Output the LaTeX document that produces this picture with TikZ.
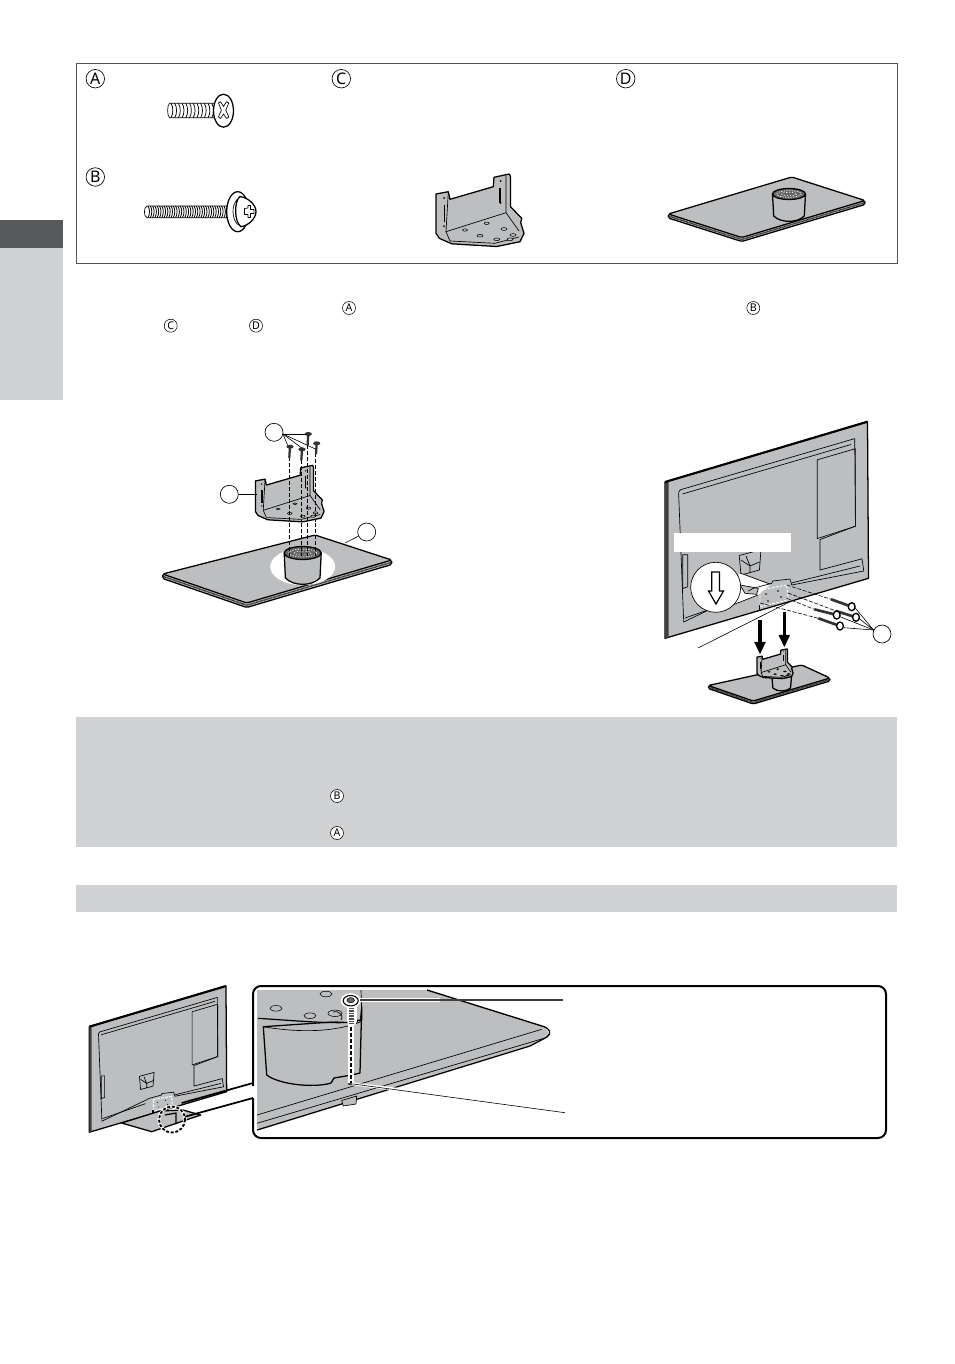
\documentclass[tikz,border=0pt]{standalone}
\usepackage{fontspec}
\setmainfont{Noto Sans}
\usetikzlibrary{calc,arrows.meta}
\definecolor{partgray}{HTML}{BCBEC0}
\definecolor{bandgray}{HTML}{D1D2D4}
\definecolor{sidedark}{HTML}{58595B}
\definecolor{framegray}{HTML}{555555}
\tikzset{
  lnk/.style={draw=black,line width=.5pt,line join=round},
  thk/.style={draw=black,line width=.95pt,line join=round},
  lab/.style={circle,draw=black,line width=.5pt,fill=white,minimum size=18.5*.75pt,inner sep=0pt,font=\fontsize{12}{12}\selectfont},
  labs/.style={circle,draw=black,line width=.4pt,fill=white,minimum size=13*.75pt,inner sep=0pt,font=\fontsize{8}{8}\selectfont},
  blank/.style={circle,draw=black,line width=.5pt,fill=white,minimum size=18*.75pt,inner sep=0pt},
  lead/.style={draw=black,line width=.45pt},
  dsh/.style={draw=black,line width=.7pt,dash pattern=on 3pt off 1.5pt},
  fine/.style={draw=black,line width=.45pt,dash pattern=on 3pt off 1.2pt},
  hole/.style={draw=black,line width=.4pt,fill=partgray},
  bigarrow/.style={black,line width=2.5pt,-{Triangle[length=9.5pt,width=8pt]}}
}
% plate: corners a b c d, rim depth
\newcommand\standplate[5]{%
  \path[fill=partgray,thk,rounded corners=1.2] (#1) -- ($(#1)+(0,#5)$) -- ($(#4)+(0,#5)$) -- ($(#3)+(0,#5)$) -- (#3) -- cycle;
  \draw[line width=1pt,dash pattern=on .6pt off .4pt,black!85] ($(#1)+(0,#5*.5)$) -- ($(#4)+(0,#5*.5)$) -- ($(#3)+(0,#5*.5)$);
  \path[fill=partgray,thk,rounded corners=1.2] (#1) -- (#2) -- (#3) -- (#4) -- cycle;
}
% cylinder: cx, top y, rx, ry, bottom y
\newcommand\standcyl[5]{%
  \path[fill=partgray,thk] ({#1-#3},#2) -- ({#1-#3+1.2},#5) .. controls ({#1-#3*.5},{#5+#4*1.3}) and ({#1+#3*.5},{#5+#4*1.3}) .. ({#1+#3-1.2},#5) -- ({#1+#3},#2) -- cycle;
  \path[fill=black!60,thk] (#1,#2) ellipse [x radius=#3,y radius=#4];
  \draw[white,line width=.55pt,dash pattern=on .9pt off 1.1pt] (#1,#2) ellipse [x radius=#3*.75,y radius=#4*.6];
  \draw[white,line width=.45pt,dash pattern=on .9pt off 1.3pt] (#1,#2) ellipse [x radius=#3*.45,y radius=#4*.3];
}
% bracket, drawn in the coordinates of the parts-box picture
\newcommand\bracketshape{%
  \path[fill=partgray,thk] (436,194) -- (448.3,191.7) -- (450,199.3) -- (493.3,186.7) -- (494,177.3) -- (509.3,174) -- (510.5,176.7) -- (510.5,206.7) -- (521.7,218.3) -- (520.7,222.7) -- (524,233.3) -- (520,241.7) -- (496.7,246.5) -- (451.7,243.8) -- (439.3,238.3) -- (436,233.3) -- cycle;
  \draw[lnk] (448.3,192) -- (446,231.7) -- (450,241);
  \draw[lnk] (446,231.7) -- (506,212.7) -- (506,175.5);
  \draw[lnk] (506,212.7) -- (519,231);
  \draw[lnk] (450,241) -- (495,243.3) -- (519,237);
  \draw[line width=1pt] (444.3,205) -- (444.3,222);
  \draw[line width=1pt] (500,188) -- (500,203);
  \path[fill=black] (444,198) circle[radius=1] (444,226) circle[radius=1] (500.5,181) circle[radius=1] (500.5,203) circle[radius=1];
  \path[hole] (465,230) ellipse [x radius=2.5,y radius=1.2] (486.7,223.3) ellipse [x radius=2.5,y radius=1.2] (480,235.7) ellipse [x radius=3,y radius=1.3] (504,229) ellipse [x radius=3,y radius=1.4] (496.7,239.3) ellipse [x radius=3,y radius=1.3] (513,235) ellipse [x radius=3,y radius=1.4] (510,239.3) ellipse [x radius=3,y radius=1.4];
}
% television back, in the coordinates of step 2
\newcommand\tvback{%
  \path[fill=partgray,thk] (665,482) -- (867.5,421.7) -- (868.5,578.3) -- (665,638.3) -- cycle;
  \path[fill=black!75] (665,482) -- (668.5,481) -- (668.5,637.3) -- (665,638.3) -- cycle;
  \draw[black,line width=1.6pt] (665,482) -- (867.5,421.7);
  \draw[lnk] (678.6,492.5) -- (680.3,489.8) -- (854.7,438.6) -- (855.4,526.2) -- (820,539.6) -- (820,570) -- (862,558.8) -- (863.8,571) -- (791.7,585);
  \draw[lnk] (748.3,591) -- (683.7,622) -- (678.6,492.5);
  \draw[lnk] (682.5,494) -- (851,444.5);
  \draw[lnk] (685,618) -- (748.3,596);
  \draw[lnk] (791.4,583) -- (860,566);
  \draw[lnk] (817.3,459.8) -- (855.4,448.7) -- (855.4,526.2) -- (817.3,538.6) -- cycle;
  \draw[lnk] (682.7,554.8) -- (687.7,554.8) -- (687.7,586.8) -- (682.7,588.5) -- cycle;
  \draw[lnk] (739.2,555.5) -- (761,549.7) -- (759.4,570) -- (741,575) -- cycle;
  \draw[lnk] (741,560) -- (750,566) -- (759.5,562) (750,566) -- (750,573) (750,566) -- (746,556);
}
\newcommand\tvbracket{%
  \draw[lnk] (748.3,591) -- (753.3,588.3) -- (771.7,583.3) -- (772.7,581) -- (790,579) -- (791.7,585);
  \draw[white,line width=.7pt,dash pattern=on 2pt off 1pt] (760,590) -- (786.7,585) -- (788.3,600) -- (760,606.7) -- cycle;
  \draw[black,line width=1pt] (759.3,605) -- (759.3,610);
  \path[fill=black] (766,594) circle[radius=.8] (778,591) circle[radius=.8] (768,601) circle[radius=.8] (781,597) circle[radius=.8];
}
\begin{document}
\begin{tikzpicture}[x=.75pt,y=-.75pt]
\useasboundingbox (0,0) rectangle (954,1364);
\path[fill=white] (0,0) rectangle (954,1364);
% side tab
\path[fill=bandgray] (0,248) rectangle (63,400);
\path[fill=sidedark] (0,220) rectangle (63,248);
% parts box
\node[draw=framegray,line width=.85pt,minimum width=821*.75pt,minimum height=200*.75pt,inner sep=0pt] (partsbox) at (487,163.5) {};
\node[lab] (la) at (95.3,78.7) {A};
\node[lab] (lc) at (341.3,78.7) {C};
\node[lab] (ld) at (625.7,78.7) {D};
\node[lab] (lb) at (95.3,177) {B};
% screw A
\path[fill=white,lnk] (214.5,103.3) -- (169.5,103.3) .. controls (167,105) and (167,116) .. (169.5,117.7) -- (214.5,117.7) -- cycle;
\foreach \i in {0,...,11} \draw[line width=.55pt] ({171+\i*3.7},103.3) .. controls ({173.5+\i*3.7},107) and ({173.5+\i*3.7},114) .. ({171+\i*3.7},117.7);
\path[fill=white,thk] (223.5,110.7) ellipse [x radius=10,y radius=16.5];
\draw[lnk] (218.5,103) -- (220.5,101.7) -- (223.5,106.5) -- (226.5,101.7) -- (228.8,103) -- (225.8,110.2) -- (228.8,117) -- (226.5,118.5) -- (223.5,114) -- (220.5,118.5) -- (218.5,117) -- (221.3,110.2) -- cycle;
% screw B
\path[fill=white,lnk] (228,206) -- (147,206) .. controls (143.5,207) and (143.5,217) .. (147,217.7) -- (228,217.7) -- cycle;
\foreach \i in {0,...,34} \draw[line width=.6pt] ({148+\i*2.3},206) .. controls ({150+\i*2.3},209) and ({150+\i*2.3},214) .. ({148+\i*2.3},217.7);
\path[fill=white,thk] (237.7,211.7) ellipse [x radius=11,y radius=20];
\path[fill=white,thk] (240,196.5) .. controls (249,198) and (256,205) .. (256,211.7) .. controls (256,218) and (249,225.5) .. (241,226.7) .. controls (234,222) and (234,201) .. (240,196.5) -- cycle;
\draw[lnk] (237.5,199) .. controls (231.5,205) and (231.5,218) .. (237.5,224.5);
\draw[lnk] (248,208) -- (248,205.5) -- (250.5,205.5) -- (250.5,209.5) -- (254,209.5) -- (254,213.5) -- (250.5,213.5) -- (250.5,217.5) -- (248,217.5) -- (248,214.5) -- (244.5,214.5) -- (244.5,208.5) -- cycle;
% bracket C
\bracketshape
% stand D
\standplate{668.3,214}{791.7,177}{865,200.5}{741.7,237.5}{4}
\standcyl{789}{194}{16.5}{5.5}{216}
% small labels
\node[labs] (sa) at (349,308) {A};
\node[labs] (sb) at (753.3,308) {B};
\node[labs] (sc) at (170.7,325.7) {C};
\node[labs] (sd) at (256,325.7) {D};
% step 1
\standplate{162.7,574}{315,535}{391.7,560}{246.7,603}{4.5}
\path[fill=white] (302.7,566.7) ellipse [x radius=32.5,y radius=18.5];
\standcyl{302.7}{553}{18.5}{6.5}{578}
\foreach \xx in {289.3,301.7,307,315.7} \draw[dsh] (\xx,523) -- (\xx,556);
\begin{scope}[shift={({256-.78*436.7},{481.7-.78*195})},scale=.78]
\bracketshape
\end{scope}
\foreach \xx/\yy in {289.3/457.3,301.7/460,307/445,315.7/453} \draw[dsh] (\xx,\yy) -- (\xx,522);
\foreach \xx/\yy in {290/446.7,302/449.3,308.3/434,316.7/443.3}{
  \draw[line width=1.7pt,black!80] (\xx,\yy) -- ({\xx-.7},{\yy+11});
  \path[fill=black!80] (\xx,\yy) ellipse [x radius=3.6,y radius=2];
}
\coordinate (sc1) at (307,434);
\coordinate (sc2) at (316,449.3);
\coordinate (sc3) at (301.7,448);
\coordinate (sc4) at (287.5,445);
\coordinate (brkend) at (257,494.3);
\coordinate (platept) at (345,543);
\node[blank] (n1) at (274,432.3) {};
\node[blank] (n2) at (229.3,494.3) {};
\node[blank] (n3) at (366.7,532) {};
\foreach \t in {sc1,sc2,sc3,sc4} \draw[lead] (283,434) -- (\t);
\draw[lead] (n2) -- (brkend);
\draw[lead] (n3) -- (platept);
% step 2
\tvback
\path[fill=white] (674,532.7) rectangle (791,551.7);
\path[fill=white] (740,573) -- (770,585) -- (758,595) -- (725,608) -- cycle;
\path[fill=partgray,lnk] (740,585) -- (758.3,588.3) -- (756.7,594.3) -- (745,593.3) -- cycle;
\draw[lnk] (740,573) -- (770,584);
\draw[lnk] (725,608) -- (758,595);
\node[circle,draw=black,line width=.5pt,fill=white,minimum size=50*.75pt,inner sep=0pt] (zoomc) at (715.7,587.3) {};
\draw[black,line width=.9pt,fill=white] (711.8,572) -- (719.5,572) -- (719.5,591) -- (723.5,591) -- (716,604) -- (708.5,591) -- (711.8,591) -- cycle;
\tvbracket
\draw[fine] (786.7,585) -- (831,599.3);
\draw[fine] (788,593) -- (836,611);
\draw[fine] (786.7,598.3) -- (814.3,609.3);
\draw[fine] (760,603) -- (818.3,618.3);
\foreach \hx/\hy/\tx/\ty in {851.7/606.7/831/599.3,856/617.3/836/611,836.7/615/814.3/609.3,840/626/818.3/618.3}{
  \draw[line width=2pt,black!80] (\hx,\hy) -- (\tx,\ty);
  \path[fill=white,draw=black,line width=1pt] (\hx,\hy) ellipse [x radius=3.4,y radius=4];
}
\node[blank] (n4) at (882,634) {};
\coordinate (t1) at (855,607.7);
\coordinate (t2) at (859,618.3);
\coordinate (t3) at (840,616.7);
\coordinate (t4) at (844,627.7);
\foreach \t in {t1,t2,t3,t4} \draw[lead] (873.5,630) -- (\t);
\coordinate (la1) at (698,648);
\coordinate (la2) at (790,601.7);
\draw[lead] (la1) -- (la2);
\draw[bigarrow] (760,620) -- (760,654.5);
\draw[bigarrow] (784.3,611.7) -- (784.3,647.5);
\standplate{708.3,685.5}{801.7,665}{830,678}{753.3,701}{3}
\standcyl{781.7}{675}{10}{3}{688}
\begin{scope}[shift={({757.3-.41*436.7},{657.5-.41*195})},scale=.41]
\bracketshape
\end{scope}
% grey bands
\path[fill=bandgray] (76,717) rectangle (897,847);
\path[fill=bandgray] (76,885) rectangle (897,912);
\node[labs] (sb2) at (337,796) {B};
\node[labs] (sa2) at (337,833) {A};
% small TV
\begin{scope}[shift={({89.3-.675*665},{1026.7-.675*482})},scale=.675]
\tvback
\end{scope}
\path[fill=partgray,thk] (121.7,1123) -- (160,1111) -- (183,1110) -- (200.7,1115) -- (151.7,1131.7) -- cycle;
\begin{scope}[shift={({89.3-.675*665},{1026.7-.675*482})},scale=.675]
\tvbracket
\end{scope}
\draw[black,line width=.9pt] (165,1115) -- (176,1113) -- (176,1124);
\draw[white,line width=2.4pt] (172,1119.5) circle[radius=13];
\draw[black,line width=1.4pt,dash pattern=on 2.2pt off 1.3pt] (172,1119.5) circle[radius=13];
\node[circle,minimum size=27*.75pt,inner sep=0pt] (dc) at (172,1119.5) {};
% callout frame
\coordinate (w1) at (181.7,1103);
\coordinate (w2) at (185,1116.7);
\coordinate (w3) at (253,1083);
\coordinate (w4) at (253,1098);
\draw[black,line width=1.5pt,rounded corners=6] (253,1086) -- (253,986) -- (886,986) -- (886,1138) -- (253,1138) -- (253,1098);
\draw[black,line width=1.3pt] (w1) -- (w3);
\draw[black,line width=1.3pt] (w2) -- (w4);
% callout content
\path[fill=partgray,rounded corners=3] (257,990) -- (427,990) -- (543.5,1026.5) -- (550,1033.5) -- (545,1039) -- (530,1046.5) -- (257,1131) -- cycle;
\draw[black,line width=1pt] (427,990) -- (543.5,1026.5) .. controls (550,1029) and (552,1033) .. (547,1037);
\draw[lnk] (257,1115) -- (541.7,1029.3);
\draw[lnk] (257,1123.3) -- (545,1038);
\draw[black,line width=.9pt] (257,1130) -- (530,1046) -- (547,1037);
\path[fill=partgray,lnk] (341.7,1100.5) -- (356.7,1096) -- (356,1104) -- (343.3,1106) -- cycle;
\path[fill=partgray,thk] (263.3,1026.7) -- (266.7,1075) .. controls (280,1085) and (315,1088) .. (331,1083) -- (334,1078) -- (351.7,1075) -- (360,1073) -- (361.7,1006.7) -- (361.7,1020) -- cycle;
\path[fill=partgray] (257,1000) -- (257,1018) -- (350,1022) -- (362,1005) -- (358,990) -- (257,990) -- cycle;
\draw[black,line width=.9pt] (258,1018.3) .. controls (300,1021) and (330,1024) .. (358,1022);
\draw[lnk] (263,1026.7) .. controls (300,1033) and (335,1032) .. (360,1022);
\draw[lnk] (360,1022) -- (361.7,1006);
\draw[lnk] (361,990) -- (361.5,1006);
\path[hole] (326,994) ellipse [x radius=6,y radius=2.8] (276,1008.3) ellipse [x radius=6,y radius=2.8] (310,1015.7) ellipse [x radius=6,y radius=2.8] (335,1013.3) ellipse [x radius=7,y radius=3.2];
\draw[lnk] (333,1012) .. controls (340,1010) and (344,1017) .. (341,1020);
% screw and leaders, with white halos
\draw[white,line width=2.2pt] (353.5,1084) -- (470,1098);
\coordinate (lb1) at (353.5,1084);
\coordinate (lb2) at (565,1112.7);
\draw[lead] (lb1) -- (lb2);
\path[fill=black!80] (350,1084) ellipse [x radius=2,y radius=1];
\draw[white,line width=4pt] (351,1020) -- (351,1083);
\draw[dsh,line width=.8pt] (351,1021) -- (351,1083);
\draw[white,line width=7.5pt,line cap=round] (351.5,1004) -- (351.5,1021);
\draw[line width=4pt,black!70,dash pattern=on .7pt off .5pt] (351.5,1005) -- (351.5,1023);
\path[fill=white] (350.7,1000.7) ellipse [x radius=10,y radius=7.5];
\draw[white,line width=2.8pt] (358,1000) -- (440,1000);
\coordinate (lt1) at (360,1000);
\coordinate (lt2) at (563.3,1000);
\draw[black!75,line width=.85pt] (lt1) -- (lt2);
\path[fill=white,draw=black,line width=.8pt] (350.7,1000.7) ellipse [x radius=7.5,y radius=5.2];
\path[fill=black!60,draw=black,line width=.4pt] (350.7,1000.2) ellipse [x radius=3.8,y radius=2.6];
\end{tikzpicture}
\end{document}
